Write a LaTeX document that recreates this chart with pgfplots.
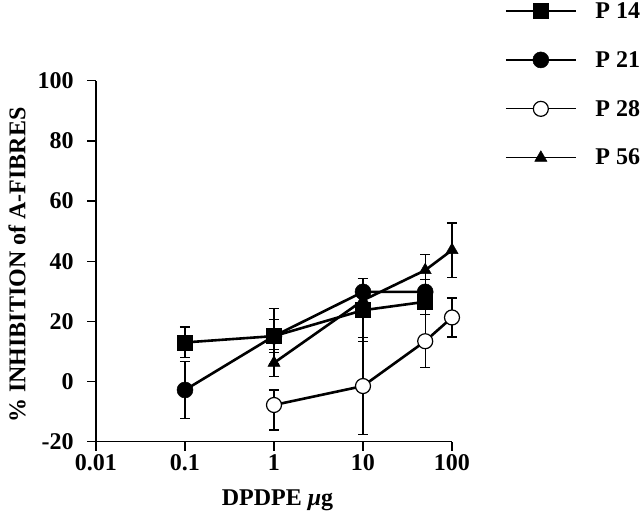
\documentclass[border=0pt]{standalone}
\usepackage{pgfplots}
\pgfplotsset{compat=1.18}
\usepackage{fontspec}
\setmainfont{Liberation Serif}
\newcommand{\bigfont}{\fontsize{24bp}{28bp}\selectfont\bfseries}
\begin{document}
\begin{tikzpicture}
\useasboundingbox (-96bp,-82.3bp) rectangle (544bp,441.7bp);
\begin{axis}[
  at={(0,0)}, anchor=south west,
  width=356bp, height=361bp, scale only axis,
  xmode=log, xmin=0.01, xmax=100, ymin=-20, ymax=100,
  axis x line*=bottom, axis y line*=left,
  axis line style={-, line width=1.3bp},
  xtick={0.01,0.1,1,10,100}, xticklabels={0.01,0.1,1,10,100},
  ytick={-20,0,20,40,60,80,100}, yticklabels={-20,0,20,40,60,80,100},
  xminorticks=false, yminorticks=false,
  tick align=outside, major tick length=9bp,
  tick style={line width=1.3bp, black},
  ticklabel style={font=\bigfont},
  yticklabel style={xshift=-10bp},
  xlabel={DPDPE \textit{μ}g},
  ylabel={\% INHIBITION of A-FIBRES},
  label style={font=\bigfont},
  xlabel style={at={(axis description cs:0.51,-0.161)}, anchor=center},
  ylabel style={at={(axis description cs:-0.222,0.489)}, anchor=center},
  clip=false,
  error bars/y dir=both, error bars/y explicit,
  error bars/error bar style={line width=1.2bp, black},
  error bars/error mark options={rotate=90, mark size=5bp, line width=1.2bp, black},
  legend image code/.code={\draw[mark repeat=2,mark phase=2,line width=1.2bp] plot coordinates {(0bp,0bp) (35bp,0bp) (70bp,0bp)};},
  legend style={draw=none, fill=none, font=\bigfont, at={(axis description cs:1.149,1.223)}, anchor=north west,
    inner sep=0pt, row sep=27.5bp, nodes={inner sep=2bp},
    /tikz/every odd column/.append style={column sep=17bp}},
  legend cell align=left,
]
\addplot[black, line width=2.6bp, mark=square*, mark size=7.5bp, mark options={fill=black, line width=0.5bp}] coordinates {
  (0.1,13.0) +- (0,5.1)
  (1,15.1) +- (0,9.3)
  (10,23.7) +- (0,10.5)
  (50,26.5) +- (0,4.2)
};
\addlegendentry{P 14}
\addplot[black, line width=2.6bp, mark=*, mark size=8bp, mark options={fill=black, line width=0.5bp}] coordinates {
  (0.1,-2.8) +- (0,9.4)
  (1,15.1) +- (0,5.5)
  (10,29.8) +- (0,4.5)
  (50,29.8) +- (0,4)
};
\addlegendentry{P 21}
\addplot[black, line width=2.6bp, mark=*, mark size=7.5bp, mark options={fill=white, line width=1.2bp}] coordinates {
  (1,-7.8) += (0,5) -= (0,8.3)
  (10,-1.5) +- (0,16.2)
  (50,13.4) +- (0,8.8)
  (100,21.3) +- (0,6.5)
};
\addlegendentry{P 28}
\addplot[black, line width=2.6bp, mark=triangle*, mark size=7bp, mark options={fill=black, line width=0.5bp}] coordinates {
  (1,6.2) +- (0,4.4)
  (10,27) +- (0,3)
  (50,37) +- (0,5.3)
  (100,43.7) +- (0,9)
};
\addlegendentry{P 56}
\end{axis}
\end{tikzpicture}
\end{document}
